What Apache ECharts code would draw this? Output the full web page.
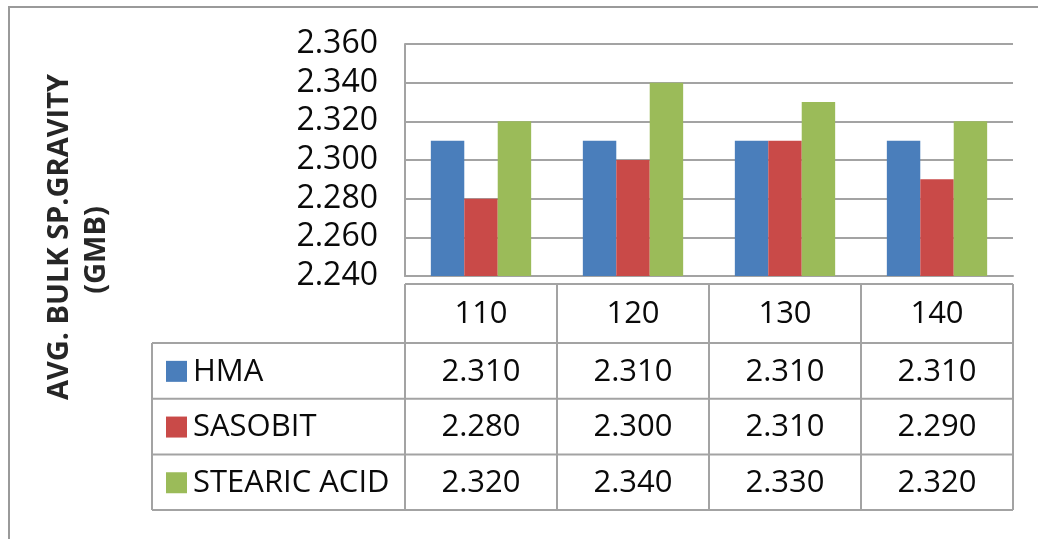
<!DOCTYPE html>
<html>
<head>
<meta charset="utf-8">
<script src="https://cdn.jsdelivr.net/npm/echarts@6/dist/echarts.min.js"></script>
<style>
  html, body { margin: 0; padding: 0; background: #ffffff; }
  #chart { width: 1038px; height: 539px; }
</style>
</head>
<body>
<div id="chart"></div>
<script>
// Mixing temperatures (°C) and average bulk specific gravity per mix type
const categories = ['110', '120', '130', '140'];
const seriesNames = ['HMA', 'SASOBIT', 'STEARIC ACID'];
const hmaValues = [2.310, 2.310, 2.310, 2.310];
const sasobitValues = [2.280, 2.300, 2.310, 2.290];
const stearicValues = [2.320, 2.340, 2.330, 2.320];
const yMin = 2.240;
const yMax = 2.360;
const yStep = 0.020;

const seriesValues = [hmaValues, sasobitValues, stearicValues];
const colors = ['#4A7EBB', '#C94A48', '#9BBB59'];
const lineGray = '#a3a3a3';
const textFont = '"Open Sans", "Liberation Sans", sans-serif';
const textColor = '#0a0a0a';

const chart = echarts.init(document.getElementById('chart'), null, { renderer: 'canvas' });

const option = {
  animation: false,
  backgroundColor: '#ffffff',
  grid: { left: 405, right: 25, top: 44, bottom: 263, containLabel: false },
  xAxis: {
    type: 'category',
    data: categories,
    axisLine: { show: true, lineStyle: { color: lineGray, width: 2 } },
    axisTick: { show: false },
    axisLabel: { show: false },
    splitLine: { show: false }
  },
  yAxis: {
    type: 'value',
    min: yMin,
    max: yMax,
    interval: yStep,
    axisLine: { show: true, lineStyle: { color: lineGray, width: 2 } },
    axisTick: { show: false },
    axisLabel: {
      margin: 27,
      fontFamily: textFont,
      fontSize: 32,
      color: textColor,
      formatter: v => v.toFixed(3)
    },
    splitLine: { show: true, lineStyle: { color: lineGray, width: 2 } }
  },
  series: seriesNames.map((name, i) => ({
    name: name,
    type: 'bar',
    data: seriesValues[i],
    barGap: '0%',
    barCategoryGap: '34%',
    itemStyle: { color: colors[i] }
  }))
};

chart.setOption(option);

// Build the axis title, the outer frame and the data table under the plot
function buildOverlay() {
  const centers = categories.map(c => chart.convertToPixel({ xAxisIndex: 0 }, c));
  const band = centers.length > 1 ? centers[1] - centers[0] : 150;
  const colEdges = centers.map(c => c - band / 2).concat([centers[centers.length - 1] + band / 2]);
  const plotBottom = chart.convertToPixel({ yAxisIndex: 0 }, yMin);

  const tableLeft = 152;
  const headerTop = plotBottom + 8;
  const headerBottom = headerTop + 59;
  const rowH = 55.7;
  const rowTops = seriesNames.map((_, i) => headerBottom + i * rowH);
  const tableBottom = headerBottom + seriesNames.length * rowH;
  const tableRight = colEdges[colEdges.length - 1];

  const els = [];
  const line = (x1, y1, x2, y2) => els.push({
    type: 'line',
    shape: { x1, y1, x2, y2 },
    style: { stroke: lineGray, lineWidth: 2 },
    silent: true
  });

  // outer frame
  els.push({
    type: 'rect',
    shape: { x: 9, y: 7, width: 1060, height: 560 },
    style: { fill: 'none', stroke: '#9a9a9a', lineWidth: 2 },
    silent: true
  });

  // axis title
  const titleFont = 'bold 29px "Open Sans", "Liberation Sans", sans-serif';
  els.push({
    type: 'text',
    x: 60, y: 237, rotation: Math.PI / 2,
    style: {
      text: 'AVG. BULK SP.GRAVITY',
      font: titleFont,
      fill: '#262626', align: 'center', verticalAlign: 'middle'
    },
    silent: true
  });
  els.push({
    type: 'text',
    x: 97, y: 250, rotation: Math.PI / 2,
    style: {
      text: '(GMB)',
      font: titleFont,
      fill: '#262626', align: 'center', verticalAlign: 'middle'
    },
    silent: true
  });

  // table grid
  line(colEdges[0], headerTop, tableRight, headerTop);
  line(tableLeft, headerBottom, tableRight, headerBottom);
  rowTops.forEach((t, i) => { if (i > 0) line(tableLeft, t, tableRight, t); });
  line(tableLeft, tableBottom, tableRight, tableBottom);
  colEdges.forEach(x => line(x, headerTop, x, tableBottom));
  line(tableLeft, headerBottom, tableLeft, tableBottom);

  // header: categories
  categories.forEach((c, j) => {
    els.push({
      type: 'text', x: centers[j], y: (headerTop + headerBottom) / 2 + 1,
      style: { text: c, font: '31px ' + textFont, fill: textColor, align: 'center', verticalAlign: 'middle' },
      silent: true
    });
  });

  // rows: legend key + values
  seriesNames.forEach((name, i) => {
    const cy = rowTops[i] + rowH / 2;
    els.push({
      type: 'rect', shape: { x: 166, y: cy - 10, width: 21, height: 21 },
      style: { fill: colors[i] }, silent: true
    });
    els.push({
      type: 'text', x: 193, y: cy + 1,
      style: { text: name, font: '31px ' + textFont, fill: textColor, align: 'left', verticalAlign: 'middle' },
      silent: true
    });
    seriesValues[i].forEach((v, j) => {
      els.push({
        type: 'text', x: centers[j], y: cy + 1,
        style: { text: v.toFixed(3), font: '31px ' + textFont, fill: textColor, align: 'center', verticalAlign: 'middle' },
        silent: true
      });
    });
  });

  chart.setOption({ graphic: { elements: els } });
}

buildOverlay();
</script>
</body>
</html>
